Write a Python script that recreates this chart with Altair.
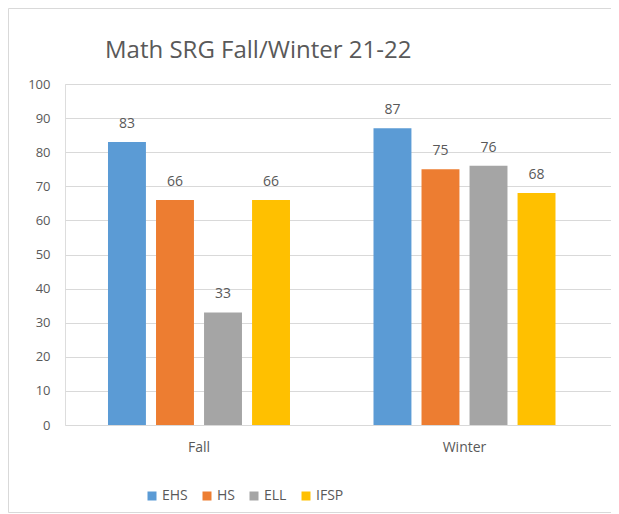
import altair as alt
import pandas as pd

title_text = "Math SRG Fall/Winter 21-22"
categories = ["Fall", "Winter"]
series = ["EHS", "HS", "ELL", "IFSP"]
fall_values = [83, 66, 33, 66]
winter_values = [87, 75, 76, 68]
colors = ["#5B9BD5", "#ED7D31", "#A5A5A5", "#FFC000"]
y_ticks = list(range(0, 101, 10))

rows = []
for cat, vals in zip(categories, [fall_values, winter_values]):
    for s, v in zip(series, vals):
        rows.append({"Term": cat, "Group": s, "Value": v})
df = pd.DataFrame(rows)

FONT = "Open Sans"
GRAY = "#595959"

x_enc = alt.X("Term:N", sort=categories, title=None,
              scale=alt.Scale(paddingInner=0.3145, paddingOuter=0.1855, align=0.4365),
              axis=alt.Axis(labelAngle=0, labelFontSize=14, labelColor=GRAY, labelFont=FONT,
                            domain=False, ticks=False, labelPadding=15))
xoff = alt.XOffset("Group:N", sort=series, scale=alt.Scale(paddingInner=0.21, paddingOuter=0))
y_enc = alt.Y("Value:Q", title=None,
              scale=alt.Scale(domain=[0, 100], nice=False),
              axis=alt.Axis(values=y_ticks, labelOverlap=False,
                            labelFontSize=13, labelColor=GRAY, labelFont=FONT,
                            domain=False, ticks=False, labelPadding=15,
                            gridColor="#D9D9D9", gridWidth=1))

one = pd.DataFrame({"t": [title_text]})

frame = alt.Chart(one).mark_rect(
    fillOpacity=0, stroke="#D9D9D9", strokeWidth=1
).encode(
    x=alt.value(-56.5), x2=alt.value(600), y=alt.value(-75.5), y2=alt.value(428.5)
)

title = alt.Chart(one).mark_text(
    align="left", baseline="alphabetic", fontSize=24, font=FONT, color=GRAY
).encode(
    text="t:N", x=alt.value(40), y=alt.value(-26)
)

bars = alt.Chart(df).mark_bar().encode(
    x=x_enc,
    xOffset=xoff,
    y=y_enc,
    color=alt.Color("Group:N", sort=series,
                    scale=alt.Scale(domain=series, range=colors),
                    legend=alt.Legend(title=None, orient="none", direction="horizontal",
                                      legendX=80, legendY=405,
                                      symbolType="square", symbolSize=81,
                                      symbolStrokeWidth=0,
                                      labelFontSize=14, labelColor=GRAY, labelFont=FONT,
                                      columnPadding=12, labelOffset=3)),
)

labels = alt.Chart(df).mark_text(
    baseline="alphabetic", dy=-14, fontSize=14, color=GRAY, font=FONT
).encode(
    x=x_enc,
    xOffset=xoff,
    y=y_enc,
    text="Value:Q",
)

chart = alt.layer(frame, title, bars, labels).properties(
    width=546,
    height=341,
    autosize=alt.AutoSizeParams(type="none"),
    padding={"left": 57, "top": 76, "right": 0, "bottom": 88},
).configure_view(stroke=None).configure(background="white")

chart.save("out.html", embed_options={"renderer": "svg", "actions": False})
